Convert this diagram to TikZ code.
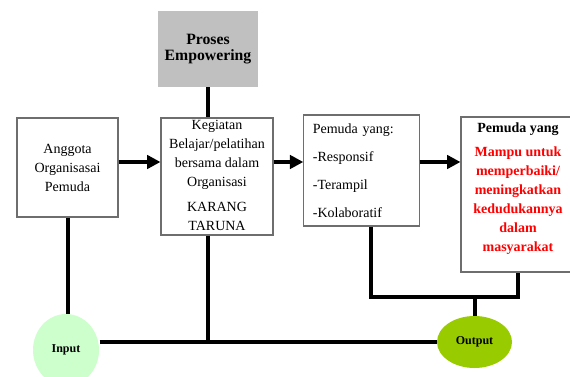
\documentclass[tikz,border=0pt]{standalone}
\usepackage{fontspec}
\setmainfont{Liberation Serif}
\usetikzlibrary{arrows.meta,shapes.geometric}

\tikzset{every picture/.style={line width=0.75pt}}
\tikzset{
	kotak/.style={rectangle, draw={rgb, 255:red, 110; green, 110; blue, 110 }, line width=0.8pt, fill=white, inner sep=0pt},
	teks/.style={font=\fontsize{10.5}{14.25}\selectfont, align=center},
	garis/.style={line width=3pt},
	panah/.style={line width=3pt, -{Triangle[length=10pt,width=10pt]}},
}

\begin{document}
\begin{tikzpicture}[x=0.75pt,y=0.75pt,yscale=-1,xscale=1]
	\useasboundingbox (0,0) rectangle (570,377); %set diagram size 570 x 377

	%Shape: Rectangle [proses]
	\node [rectangle, fill={rgb, 255:red, 192; green, 192; blue, 192 }, minimum width=75pt, minimum height=57pt, align=center, font=\fontsize{11.8}{12.3}\selectfont\bfseries] (proses) at (208,49) {Proses\\Empowering};
	%Shape: Rectangle [anggota]
	\node [kotak, teks, minimum width=75.75pt, minimum height=74.25pt] (anggota) at (67.5,167.5) {Anggota\\Organisasai\\Pemuda};
	%Shape: Rectangle [kegiatan]
	\node [kotak, teks, minimum width=84pt, minimum height=87.75pt] (kegiatan) at (217,176.5) {Kegiatan\\Belajar/pelatihan\\bersama dalam\\Organisasi\\[4.5pt]KARANG\\TARUNA\vphantom{g}};
	%Shape: Rectangle [pemuda]
	\node [kotak, font=\fontsize{10.5}{21}\selectfont, align=left, text width=73pt, inner xsep=6.75pt, minimum height=83.25pt] (pemuda) at (361.5,170.5) {Pemuda yang:\\-Responsif\\-Terampil\\-Kolaboratif};
	%Shape: Rectangle [hasil]
	\node [kotak, minimum width=85.5pt, minimum height=116.25pt] (hasil) at (518,194.5) {};
	% Text Node
	\node [teks, font=\fontsize{10.5}{14.25}\selectfont\bfseries, anchor=north] (hasilteks) at ([yshift=1pt]hasil.north) {Pemuda yang\\[3.75pt]\textcolor{red}{Mampu untuk}\\\textcolor{red}{memperbaiki/}\\\textcolor{red}{meningkatkan}\\\textcolor{red}{kedudukannya}\\\textcolor{red}{dalam}\\\textcolor{red}{masyarakat}};

	%Shape: Ellipse [input]
	\node [ellipse, fill={rgb, 255:red, 204; green, 255; blue, 204 }, minimum width=49.5pt, minimum height=54pt, font=\fontsize{9}{10}\selectfont\bfseries] (input) at (66,350) {Input};
	%Shape: Ellipse [output]
	\node [ellipse, fill={rgb, 255:red, 153; green, 204; blue, 0 }, minimum width=56.25pt, minimum height=39pt, font=\fontsize{9}{10}\selectfont\bfseries, text depth=2pt] (output) at (474.5,342) {Output};

	\coordinate (baris) at (0,162);
	\coordinate (gabung) at (output.north |- 0,297);
	\coordinate (simpul) at (proses.south |- output.west);

	%Straight Lines
	\draw [garis] (proses.south) -- (proses.south |- kegiatan.north);
	\draw [garis] (proses.south |- kegiatan.south) -- (simpul);
	\draw [garis] (input.east |- output.west) -- (output.west);
	\draw [garis] (anggota.south) -- (anggota.south |- input.north);
	\draw [garis] ([xshift=7.1pt]pemuda.south) |- (gabung) -| (hasil.south);
	\draw [garis] (gabung) -- (output.north);

	%Arrows
	\draw [panah] (anggota.east |- baris) -- (kegiatan.west |- baris);
	\draw [panah] (kegiatan.east |- baris) -- (pemuda.west |- baris);
	\draw [panah] (pemuda.east |- baris) -- (hasil.west |- baris);

\end{tikzpicture}
\end{document}
